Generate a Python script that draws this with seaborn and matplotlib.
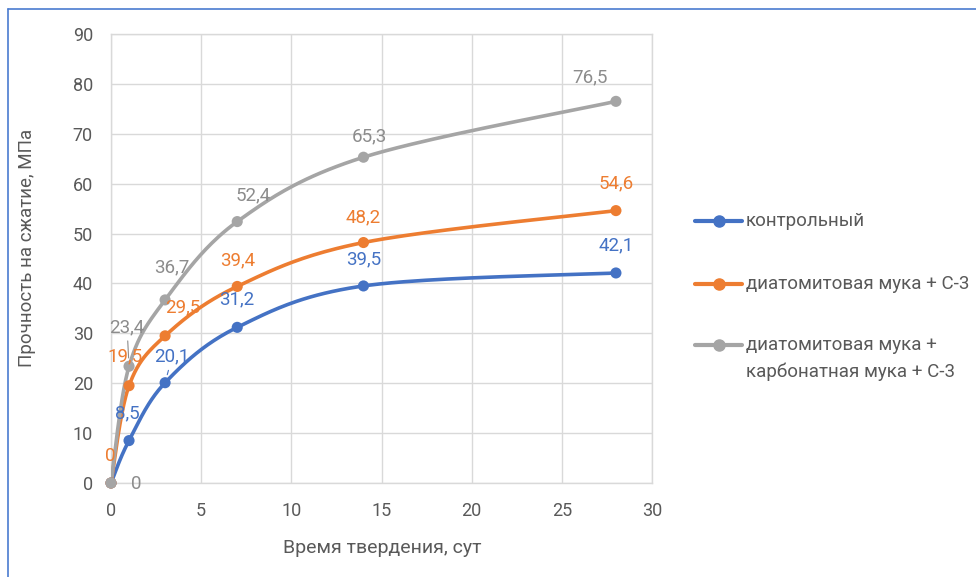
import numpy as np
import pandas as pd
import matplotlib
matplotlib.use("Agg")
import matplotlib.pyplot as plt
import seaborn as sns
from matplotlib.lines import Line2D

# Curing time, days
days = [0, 1, 3, 7, 14, 28]

# Compressive strength, MPa
control = [0, 8.5, 20.1, 31.2, 39.5, 42.1]
diatomite_c3 = [0, 19.5, 29.5, 39.4, 48.2, 54.6]
diatomite_carbonate_c3 = [0, 23.4, 36.7, 52.4, 65.3, 76.5]

series_names = [
    "контрольный",
    "диатомитовая мука + С-3",
    "диатомитовая мука +\nкарбонатная мука + С-3",
]
series_values = [control, diatomite_c3, diatomite_carbonate_c3]

x_ticks = [0, 5, 10, 15, 20, 25, 30]
y_ticks = [0, 10, 20, 30, 40, 50, 60, 70, 80, 90]

line_colors = ["#4472C4", "#ED7D31", "#A5A5A5"]
label_colors = ["#4472C4", "#ED7D31", "#8C8C8C"]
text_gray = "#595959"
grid_gray = "#D9D9D9"

# data-label placement (pixel offsets from the point); None = label hidden
label_offsets = [
    [None, (-2, 27), (7, 26), (0, 28), (0, 27), (0, 28)],
    [(-1, 27), (-4, 29), (18, 28), (0, 26), (0, 25), (0, 27)],
    [(25, -1), (-2, 39), (7, 33), (16, 26), (6, 21), (-26, 24)],
]
leader_lines = {(0, 2), (2, 1)}


def smooth_curve(xs, ys, n=40):
    """Bezier segments with Catmull-Rom control points (spreadsheet-style smoothed line)."""
    pts = np.column_stack([xs, ys]).astype(float)
    ext = np.vstack([pts[0], pts, pts[-1]])
    t = np.linspace(0, 1, n)[:, None]
    segs = []
    for i in range(1, len(ext) - 2):
        p0, p1, p2, p3 = ext[i - 1], ext[i], ext[i + 1], ext[i + 2]
        c1 = p1 + (p2 - p0) / 6.0
        c2 = p2 - (p3 - p1) / 6.0
        seg = ((1 - t) ** 3) * p1 + 3 * ((1 - t) ** 2) * t * c1 \
            + 3 * (1 - t) * t ** 2 * c2 + t ** 3 * p2
        segs.append(seg if i == 1 else seg[1:])
    return np.vstack(segs)


points = pd.DataFrame(
    [(name, d, v) for name, vals in zip(series_names, series_values)
     for d, v in zip(days, vals)],
    columns=["series", "day", "strength"],
)
curve_rows = []
for name, vals in zip(series_names, series_values):
    c = smooth_curve(days, vals)
    for i, (cx, cy) in enumerate(c):
        curve_rows.append((name, i, cx, cy))
curves = pd.DataFrame(curve_rows, columns=["series", "idx", "day", "strength"])

sns.set_theme(style="white")
plt.rcParams["font.family"] = ["Roboto", "DejaVu Sans"]

W, H = 976, 577
fig = plt.figure(figsize=(W / 100, H / 100), dpi=100)
ax = fig.add_axes([111 / W, 1 - 483 / H, (652 - 111) / W, (483 - 34) / H])

palette = dict(zip(series_names, line_colors))
sns.lineplot(data=curves, x="day", y="strength", hue="series", palette=palette,
             units="series", estimator=None, sort=False, lw=2.6, legend=False,
             ax=ax, zorder=3)
sns.scatterplot(data=points, x="day", y="strength", hue="series", palette=palette,
                s=64, linewidth=0, legend=False, ax=ax, zorder=4, clip_on=False)

for si, (vals, offs) in enumerate(zip(series_values, label_offsets)):
    for pi, (d, v) in enumerate(zip(days, vals)):
        off = offs[pi]
        if off is None:
            continue
        txt = f"{v:g}".replace(".", ",")
        arrow = None
        if (si, pi) in leader_lines:
            arrow = dict(arrowstyle="-", color=label_colors[si], lw=0.8,
                         shrinkA=1, shrinkB=6)
        ax.annotate(txt, xy=(d, v), xytext=off, textcoords="offset pixels",
                    ha="center", va="center", fontsize=13.5,
                    color=label_colors[si], arrowprops=arrow, zorder=5)

ax.set_xlim(0, 30)
ax.set_ylim(0, 90)
ax.set_xticks(x_ticks)
ax.set_yticks(y_ticks)
ax.grid(True, color=grid_gray, lw=1)
ax.set_axisbelow(True)
for sp in ax.spines.values():
    sp.set_color(grid_gray)
    sp.set_linewidth(1)
ax.tick_params(axis="both", length=0, labelsize=13, labelcolor=text_gray)
ax.tick_params(axis="x", pad=14)
ax.tick_params(axis="y", pad=13)
ax.set_xlabel("")
ax.set_ylabel("")

fig.text(382 / W, 1 - 548 / H, "Время твердения, сут", ha="center", va="center",
         fontsize=14, color=text_gray)
fig.text(27 / W, 1 - 248 / H, "Прочность на сжатие, МПа", ha="center", va="center",
         rotation=90, fontsize=13.5, color=text_gray)

# legend, drawn entry by entry to the right of the plot area
legend_rows = [221, 284, 345]
label_rows = [221, 284, 358.5]
for name, color, yrow, ytxt in zip(series_names, line_colors, legend_rows, label_rows):
    yf = 1 - yrow / H
    fig.add_artist(Line2D([695 / W, 742 / W], [yf, yf], color=color, lw=3))
    fig.add_artist(Line2D([718.5 / W], [yf], color=color, marker="o",
                          markersize=8, lw=0))
    fig.text(746 / W, 1 - ytxt / H, name, ha="left", va="center",
             fontsize=13.5, color=text_gray, linespacing=1.6)

# chart frame outline
fig.add_artist(Line2D([8 / W, 1], [1 - 9 / H, 1 - 9 / H], color="#4A7BD0", lw=1.2))
fig.add_artist(Line2D([8 / W, 8 / W], [0, 1 - 9 / H], color="#4A7BD0", lw=1.2))

fig.savefig("out.png", dpi=100)
